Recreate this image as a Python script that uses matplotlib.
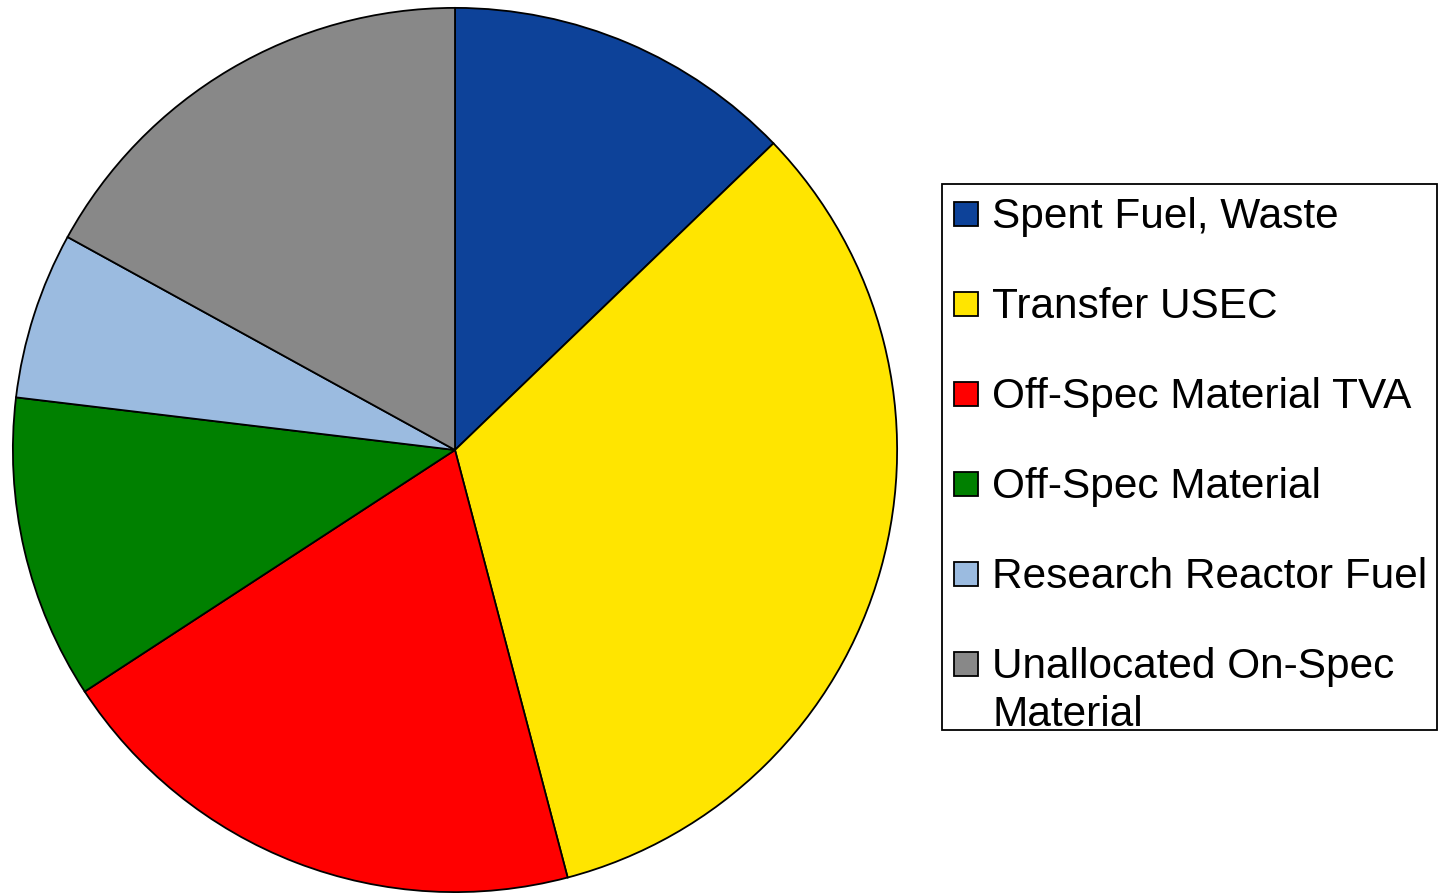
import matplotlib
matplotlib.use("Agg")
import matplotlib.pyplot as plt
from matplotlib.patches import Rectangle

plt.rcParams['font.family'] = ['Liberation Sans', 'DejaVu Sans']

categories = ["Spent Fuel, Waste", "Transfer USEC", "Off-Spec Material TVA",
              "Off-Spec Material", "Research Reactor Fuel",
              "Unallocated On-Spec\nMaterial"]
values = [12.8, 33.1, 19.9, 11.1, 6.1, 17.0]
colors = ["#0D4299", "#FFE500", "#FF0000", "#008000", "#9BBBE0", "#888888"]

W, H = 1439, 893
fig = plt.figure(figsize=(W / 100, H / 100), dpi=100)

# pie axes: centre (455,450) radius ~443 px
cx, cy, r = 455, 450, 443
ax = fig.add_axes([(cx - r) / W, (H - cy - r) / H, 2 * r / W, 2 * r / H])
ax.pie(values, colors=colors, startangle=90, counterclock=False,
       radius=1, wedgeprops=dict(edgecolor="black", linewidth=1.3))
ax.set_xlim(-1.002, 1.002)
ax.set_ylim(-1.002, 1.002)
ax.set_aspect("equal")
ax.axis("off")

# legend drawn in figure pixel coordinates
lax = fig.add_axes([0, 0, 1, 1])
lax.set_xlim(0, W)
lax.set_ylim(H, 0)
lax.axis("off")
lax.add_patch(Rectangle((942, 184), 495, 546, facecolor="white",
                        edgecolor="black", linewidth=1.3))
row0, step = 214, 90
for i, (lab, col) in enumerate(zip(categories, colors)):
    yc = row0 + i * step
    lax.add_patch(Rectangle((954, yc - 12), 24, 24, facecolor=col,
                            edgecolor="black", linewidth=1.3))
    lines = lab.split("\n")
    for j, ln in enumerate(lines):
        lax.text(992, yc + 14 + j * 48.5, ln, fontsize=30.5, va="baseline",
                 ha="left", color="black")

fig.savefig("out.png", dpi=100)
